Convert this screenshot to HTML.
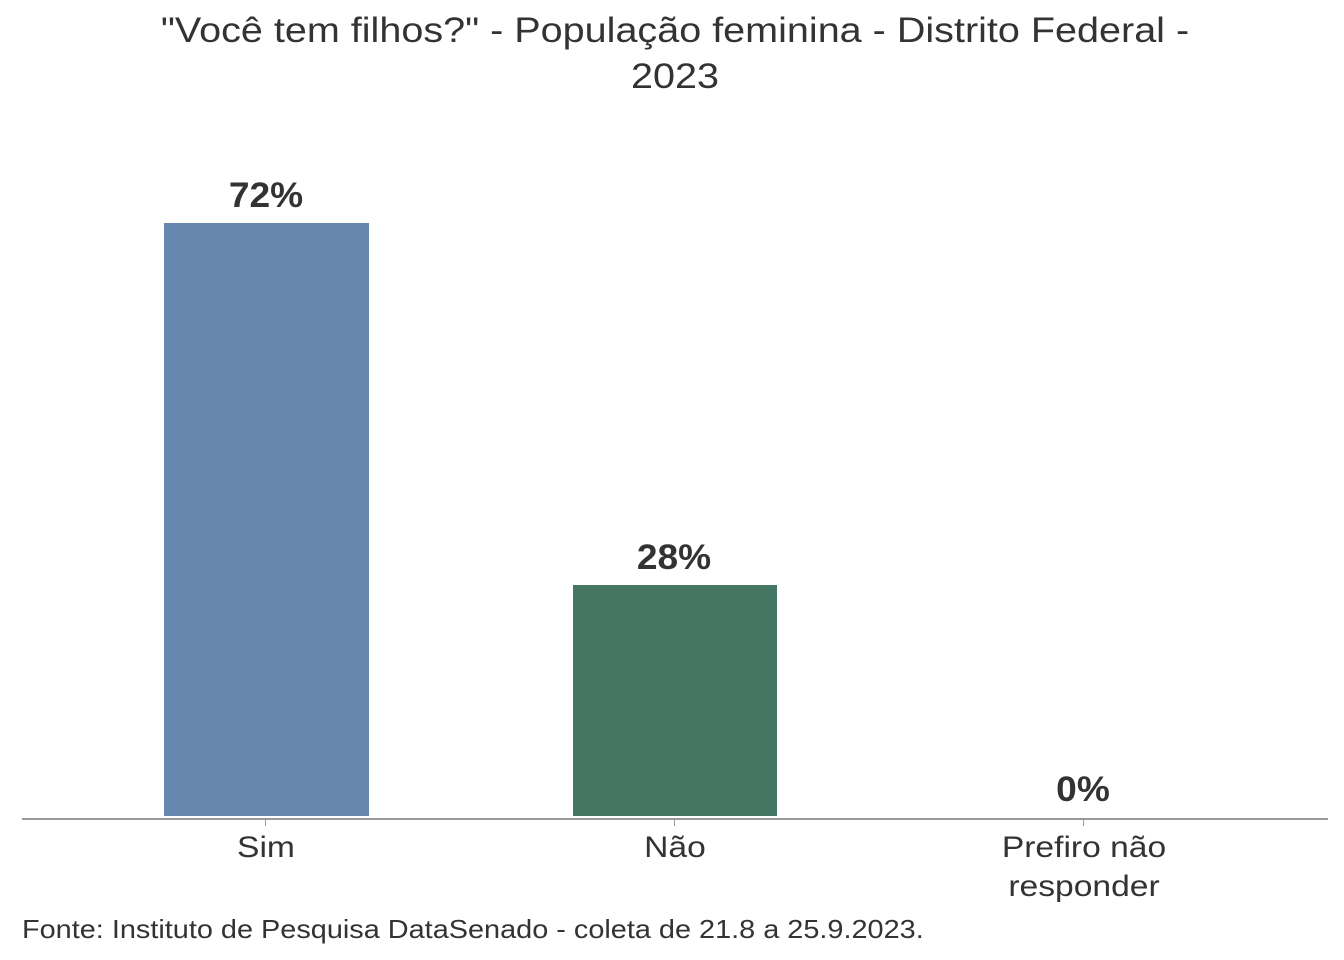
<!DOCTYPE html>
<html><head><meta charset="utf-8"><style>
body{margin:0;width:1344px;height:960px;background:#fff;overflow:hidden;font-family:"Liberation Sans",sans-serif;color:#333}
.a{position:absolute;white-space:nowrap}
.t{font-size:35px;left:0;width:1350px;text-align:center;line-height:46px;transform:scaleX(1.13)}
.v{font-size:35px;font-weight:bold;width:300px;text-align:center;transform:scaleX(1.06)}
.c{font-size:30px;width:400px;text-align:center;line-height:39px;transform:scaleX(1.12)}
</style></head><body>
<div class="a t" style="top:8px">"Você tem filhos?" - População feminina - Distrito Federal -<br>2023</div>
<div class="a" style="left:164px;top:223px;width:205px;height:593px;background:#6688AF"></div>
<div class="a" style="left:573px;top:585px;width:204px;height:231px;background:#457563"></div>
<div class="a" style="left:22px;top:818px;width:1306px;height:2px;background:#999"></div>
<div class="a" style="left:265px;top:820px;width:1px;height:6px;background:#999"></div>
<div class="a" style="left:674px;top:820px;width:1px;height:6px;background:#999"></div>
<div class="a" style="left:1083px;top:820px;width:1px;height:6px;background:#999"></div>
<div class="a v" style="left:116px;top:176px">72%</div>
<div class="a v" style="left:524px;top:538px">28%</div>
<div class="a v" style="left:933px;top:770px">0%</div>
<div class="a c" style="left:66px;top:828px">Sim</div>
<div class="a c" style="left:475px;top:828px">Não</div>
<div class="a c" style="left:884px;top:828px">Prefiro não<br>responder</div>
<div class="a" style="left:22px;top:914px;font-size:26px;transform:scaleX(1.11);transform-origin:left">Fonte: Instituto de Pesquisa DataSenado - coleta de 21.8 a 25.9.2023.</div>
</body></html>
